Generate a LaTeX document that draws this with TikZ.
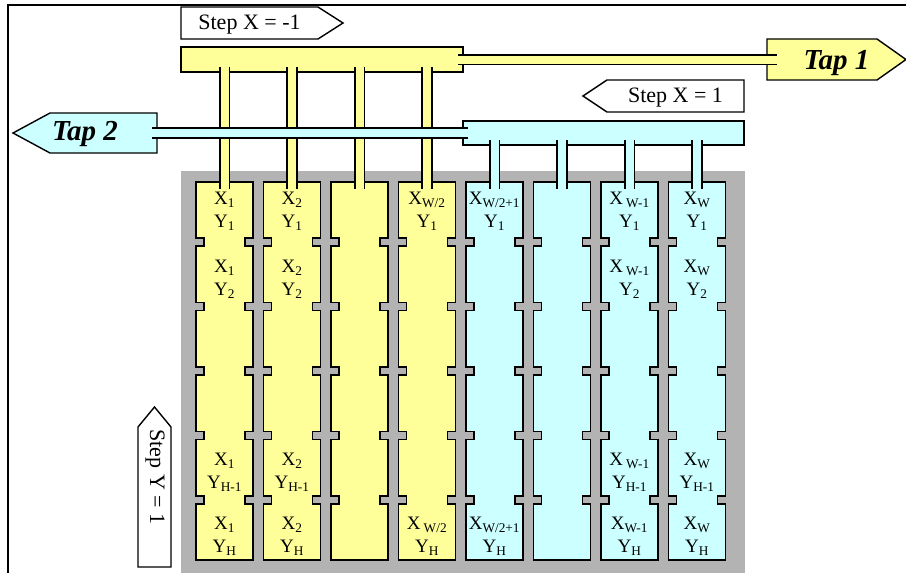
\documentclass[tikz,border=0pt]{standalone}
\usepackage{fontspec}
\setmainfont{Liberation Serif}
\definecolor{yfill}{HTML}{FFFF99}
\definecolor{cfill}{HTML}{CCFFFF}
\definecolor{gback}{HTML}{B3B3B3}
\begin{document}
\begin{tikzpicture}[x=1pt, y=-1pt,
  bus/.style={draw,line width=1.8pt,inner sep=0pt,outer sep=0pt,anchor=north west},
  col/.style={draw,line width=1.8pt},
  pipe/.style={draw=black,line width=1.8pt,double distance=8pt},
  tag/.style={draw,line width=1.4pt},
  lab/.style={align=center,inner sep=0pt,font=\fontsize{19}{23}\selectfont},
  steptxt/.style={inner sep=0pt,anchor=base,font=\fontsize{22}{22}\selectfont},
  taptxt/.style={inner sep=0pt,anchor=base,font=\fontsize{29}{29}\selectfont\bfseries\itshape}]
\useasboundingbox (0,0) rectangle (906,573);
% frame
\draw[line width=2pt] (8,573) -- (8,5) -- (906,5);
% pixel array
\fill[gback] (181,171) rectangle (745,573);
\foreach \i/\cf in {0/yfill,1/yfill,2/yfill,3/yfill,4/cfill,5/cfill,6/cfill,7/cfill} {
  \pgfmathsetmacro{\xa}{196+67.5*\i}
  \pgfmathsetmacro{\xb}{\xa+57}
  \draw[col,fill=\cf] (\xa,182) -- (\xb,182)
    \foreach \yc in {242,306.5,371,435.5,500} {-- (\xb,\yc-4) -- (\xb-8,\yc-4) -- (\xb-8,\yc+4) -- (\xb,\yc+4)}
    -- (\xb,560) -- (\xa,560)
    \foreach \yc in {500,435.5,371,306.5,242} {-- (\xa,\yc+4) -- (\xa+8,\yc+4) -- (\xa+8,\yc-4) -- (\xa,\yc-4)}
    -- cycle;
  \coordinate (c\i) at (\xa+28.5,182);
}
% buses
\node[bus,fill=yfill,minimum width=282pt,minimum height=25pt] (ybus) at (181,47) {};
\node[bus,fill=cfill,minimum width=281pt,minimum height=24pt] (cbus) at (463,121) {};
% taps
\draw[tag,fill=yfill] (767,39) -- (877,39) -- (906,59.5) -- (877,80) -- (767,80) -- cycle;
\coordinate (tap1port) at (767,59.5);
\node[taptxt] (tap1) at (836.5,69.5) {Tap 1};
\draw[tag,fill=cfill] (157,113) -- (50,113) -- (13,133) -- (50,153) -- (157,153) -- cycle;
\coordinate (tap2port) at (157,133);
\node[taptxt] (tap2) at (85,140.5) {Tap 2};
% pipes
\foreach \i in {0,...,3} {\draw[pipe,double=yfill] (c\i |- ybus.south) ++(0,-5) -- ([yshift=-7pt]c\i);}
\foreach \i in {4,...,7} {\draw[pipe,double=cfill] (c\i |- cbus.south) ++(0,-5) -- ([yshift=-7pt]c\i);}
\draw[pipe,double=yfill] ([xshift=-5pt]ybus.east) -- ([xshift=10pt]tap1port);
\draw[pipe,double=cfill] ([xshift=5pt]cbus.west) -- ([xshift=-5pt]tap2port);
% step tags
\draw[tag,fill=white] (181,7) -- (318,7) -- (343,23) -- (318,39) -- (181,39) -- cycle;
\node[steptxt] (stepxm) at (249.5,29.5) {Step X = -1};
\draw[tag,fill=white] (744,80) -- (607,80) -- (583,96) -- (607,112) -- (744,112) -- cycle;
\node[steptxt] (stepxp) at (675.5,102.5) {Step X = 1};
\draw[tag,fill=white] (138,567) -- (138,427) -- (154.5,407) -- (171,427) -- (171,567) -- cycle;
\node[steptxt,anchor=center,rotate=-90] (stepy) at (155,477) {Step Y = 1};
% cell labels
\foreach \i/\n in {0/1,1/2} {
  \node[lab] (l\i-1) at ([yshift=-29pt]c\i) {X\textsubscript{\n}\\Y\textsubscript{1}};
  \node[lab] (l\i-2) at ([yshift=-97pt]c\i) {X\textsubscript{\n}\\Y\textsubscript{2}};
  \node[lab] (l\i-5) at ([yshift=-290pt]c\i) {X\textsubscript{\n}\\Y\textsubscript{H-1}};
  \node[lab] (l\i-6) at ([yshift=-354pt]c\i) {X\textsubscript{\n}\\Y\textsubscript{H}};
}
\node[lab] (l3-1) at ([yshift=-29pt]c3) {X\textsubscript{W/2}\\Y\textsubscript{1}};
\node[lab] (l3-6) at ([yshift=-354pt]c3) {X\,\textsubscript{W/2}\\Y\textsubscript{H}};
\node[lab] (l4-1) at ([yshift=-29pt]c4) {X\textsubscript{W/2+1}\\Y\textsubscript{1}};
\node[lab] (l4-6) at ([yshift=-354pt]c4) {X\textsubscript{W/2+1}\\Y\textsubscript{H}};
\node[lab] (l6-1) at ([yshift=-29pt]c6) {X\,\textsubscript{W-1}\\Y\textsubscript{1}};
\node[lab] (l6-2) at ([yshift=-97pt]c6) {X\,\textsubscript{W-1}\\Y\textsubscript{2}};
\node[lab] (l6-5) at ([yshift=-290pt]c6) {X\,\textsubscript{W-1}\\Y\textsubscript{H-1}};
\node[lab] (l6-6) at ([yshift=-354pt]c6) {X\textsubscript{W-1}\\Y\textsubscript{H}};
\node[lab] (l7-1) at ([yshift=-29pt]c7) {X\textsubscript{W}\\Y\textsubscript{1}};
\node[lab] (l7-2) at ([yshift=-97pt]c7) {X\textsubscript{W}\\Y\textsubscript{2}};
\node[lab] (l7-5) at ([yshift=-290pt]c7) {X\textsubscript{W}\\Y\textsubscript{H-1}};
\node[lab] (l7-6) at ([yshift=-354pt]c7) {X\textsubscript{W}\\Y\textsubscript{H}};
\end{tikzpicture}
\end{document}
